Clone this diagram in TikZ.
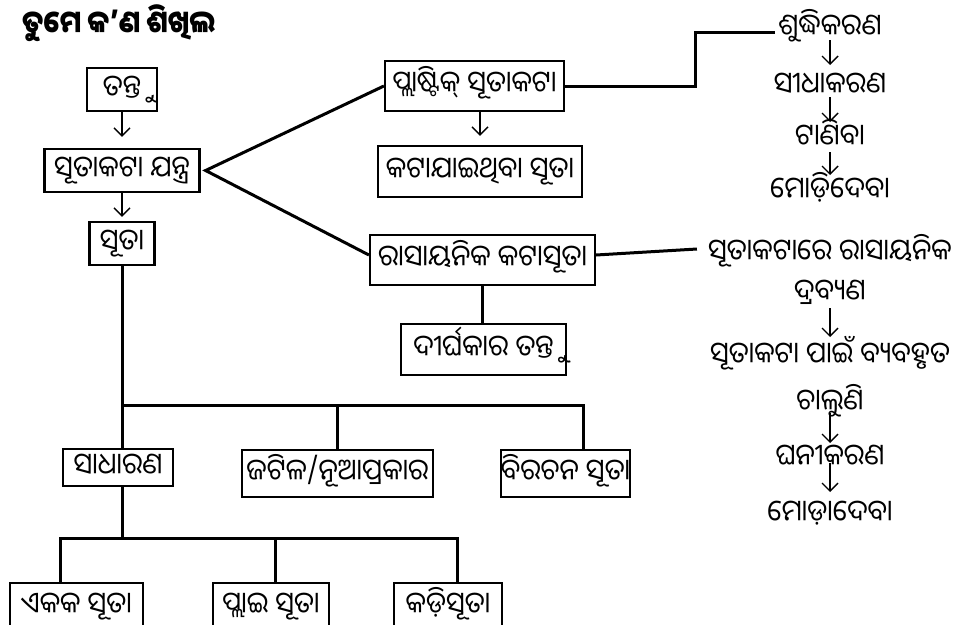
\documentclass[tikz,border=0pt]{standalone}
\usepackage{fontspec}
\newfontfamily\odia[Script=Oriya,FakeStretch=0.92]{Noto Sans Oriya UI}
\newfontfamily\odiat[Script=Oriya,FakeStretch=0.87]{Noto Sans Oriya UI}
\usetikzlibrary{arrows.meta}
\tikzset{
  box/.style={draw, line width=2.2pt, inner sep=0pt, text height=17pt, text depth=0pt,
    font=\odia\fontsize{29.5}{34}\selectfont},
  rt/.style={anchor=base, inner sep=0pt, font=\odia\fontsize{29.5}{34}\selectfont},
  conn/.style={line width=3pt},
  arr/.style={line width=1.4pt, -{Straight Barb[length=8pt,width=16pt,line width=1.4pt]}},
}
\begin{document}
\begin{tikzpicture}[x=1pt,y=-1pt]
\useasboundingbox (0,0) rectangle (965,624);
\clip (0,0) rectangle (965,624);
\node[anchor=base west, inner sep=0pt, font=\odiat\bfseries\fontsize{31}{36}\selectfont] (title) at (22,35) {ତୁମେ କ’ଣ ଶିଖିଲ};

\node[box, minimum width=70pt, minimum height=43pt] (tantu) at (122,89.5) {ତନ୍ତୁ};
\node[box, minimum width=155pt, minimum height=43pt] (jantra) at (122,170.5) {ସୂତାକଟା ଯନ୍ତ୍ର};
\node[box, minimum width=65pt, minimum height=43pt] (suta) at (122,243.5) {ସୂତା};
\node[box, minimum width=179pt, minimum height=50pt] (plastic) at (474.5,86) {ପ୍ଲାଷ୍ଟିକ୍ ସୂତାକଟା};
\node[box, minimum width=204pt, minimum height=51pt] (kata) at (480,171.5) {କଟାଯାଇଥିବା ସୂତା};
\node[box, minimum width=225pt, minimum height=50pt] (rasa) at (482.5,260) {ରାସାୟନିକ କଟାସୂତା};
\node[box, minimum width=165pt, minimum height=51pt] (dirgha) at (483.5,349.5) {ଦୀର୍ଘକାର ତନ୍ତୁ};
\node[box, minimum width=110pt, minimum height=37pt] (sadh) at (118,467.5) {ସାଧାରଣ};
\node[box, minimum width=191pt, minimum height=47pt] (jat) at (337.5,473.5) {ଜଟିଳ/ନୂଆପ୍ରକାର};
\node[box, minimum width=103pt, minimum height=47pt] (vir) at (565.5,473.5) {ବିରଚନ ସୂତା};
\node[box, minimum width=133pt, minimum height=47pt] (ekaka) at (76.5,606.5) {ଏକକ ସୂତା};
\node[box, minimum width=116pt, minimum height=47pt] (plai) at (271,606.5) {ପ୍ଲାଇ ସୂତା};
\node[box, minimum width=108pt, minimum height=47pt] (kadi) at (448,606.5) {କଡ଼ିସୂତା};

\node[rt] (s1) at (830,37) {ଶୁଦ୍ଧିକରଣ};
\node[rt] (s2) at (830,95) {ସୀଧାକରଣ};
\node[rt] (s3) at (830,147) {ଟାଣିବା};
\node[rt] (s4) at (830,200) {ମୋଡ଼ିଦେବା};
\node[rt] (r1a) at (830,262) {ସୂତାକଟାରେ ରାସାୟନିକ};
\node[rt] (r1b) at (830,302) {ଦ୍ରବ୍ୟଣ};
\node[rt] (r2a) at (830,365) {ସୂତାକଟା ପାଇଁ ବ୍ୟବହୃତ};
\node[rt] (r2b) at (830,412) {ଚାଲୁଣି};
\node[rt] (r3) at (830,467) {ଘନୀକରଣ};
\node[rt] (r4) at (830,523) {ମୋଡ଼ାଦେବା};

% left arrows
\draw[arr, shorten >=11pt] (tantu.south) -- (jantra.north);
\draw[arr, shorten >=4pt] (jantra.south) -- (suta.north);
\draw[arr, shorten >=9pt] (kata.north |- plastic.south) -- (kata.north);

% right column arrows
\draw[arr] ([yshift=-3pt]s1.base) -- ([yshift=30pt]s2.base);
\draw[arr] ([yshift=-2pt]s2.base) -- ([yshift=25pt]s3.base);
\draw[arr] ([yshift=-5pt]s3.base) -- ([yshift=25pt]s4.base);
\draw[arr] ([yshift=-6pt]r1b.base) -- ([yshift=28pt]r2a.base);
\draw[arr] ([yshift=-1pt]r2b.base) -- ([yshift=24pt]r3.base);
\draw[arr] ([yshift=4pt]r3.base) -- ([yshift=31pt]r4.base);

% connectors
\draw[conn] (plastic.west) -- ([xshift=5pt]jantra.east) -- ([yshift=5pt]rasa.west);
\draw[conn] (plastic.east) -- ++(130,0) |- ([xshift=-3pt,yshift=5pt]s1.base west);
\draw[conn] ([yshift=5pt]rasa.east) -- ([xshift=-11pt,yshift=13pt]r1a.base west);
\draw[conn] (rasa.south) -- (rasa.south |- dirgha.north);

\coordinate (j1) at (122,405);
\coordinate (j3) at (583,405);
\coordinate (k1) at (60,538);
\coordinate (k2) at (275,538);
\coordinate (k3) at (457,538);
\draw[conn] (suta.south) -- (j1);
\draw[conn] (j1 |- sadh.north) -- (j1) -- (j3) -- (j3 |- vir.north);
\draw[conn] (jat.north |- j1) -- (jat.north);
\draw[conn] (j1 |- sadh.south) -- (j1 |- k1);
\draw[conn] (k1 |- ekaka.north) -- (k1) -- (k3) -- (k3 |- kadi.north);
\draw[conn] (k2) -- (k2 |- plai.north);
\end{tikzpicture}
\end{document}
